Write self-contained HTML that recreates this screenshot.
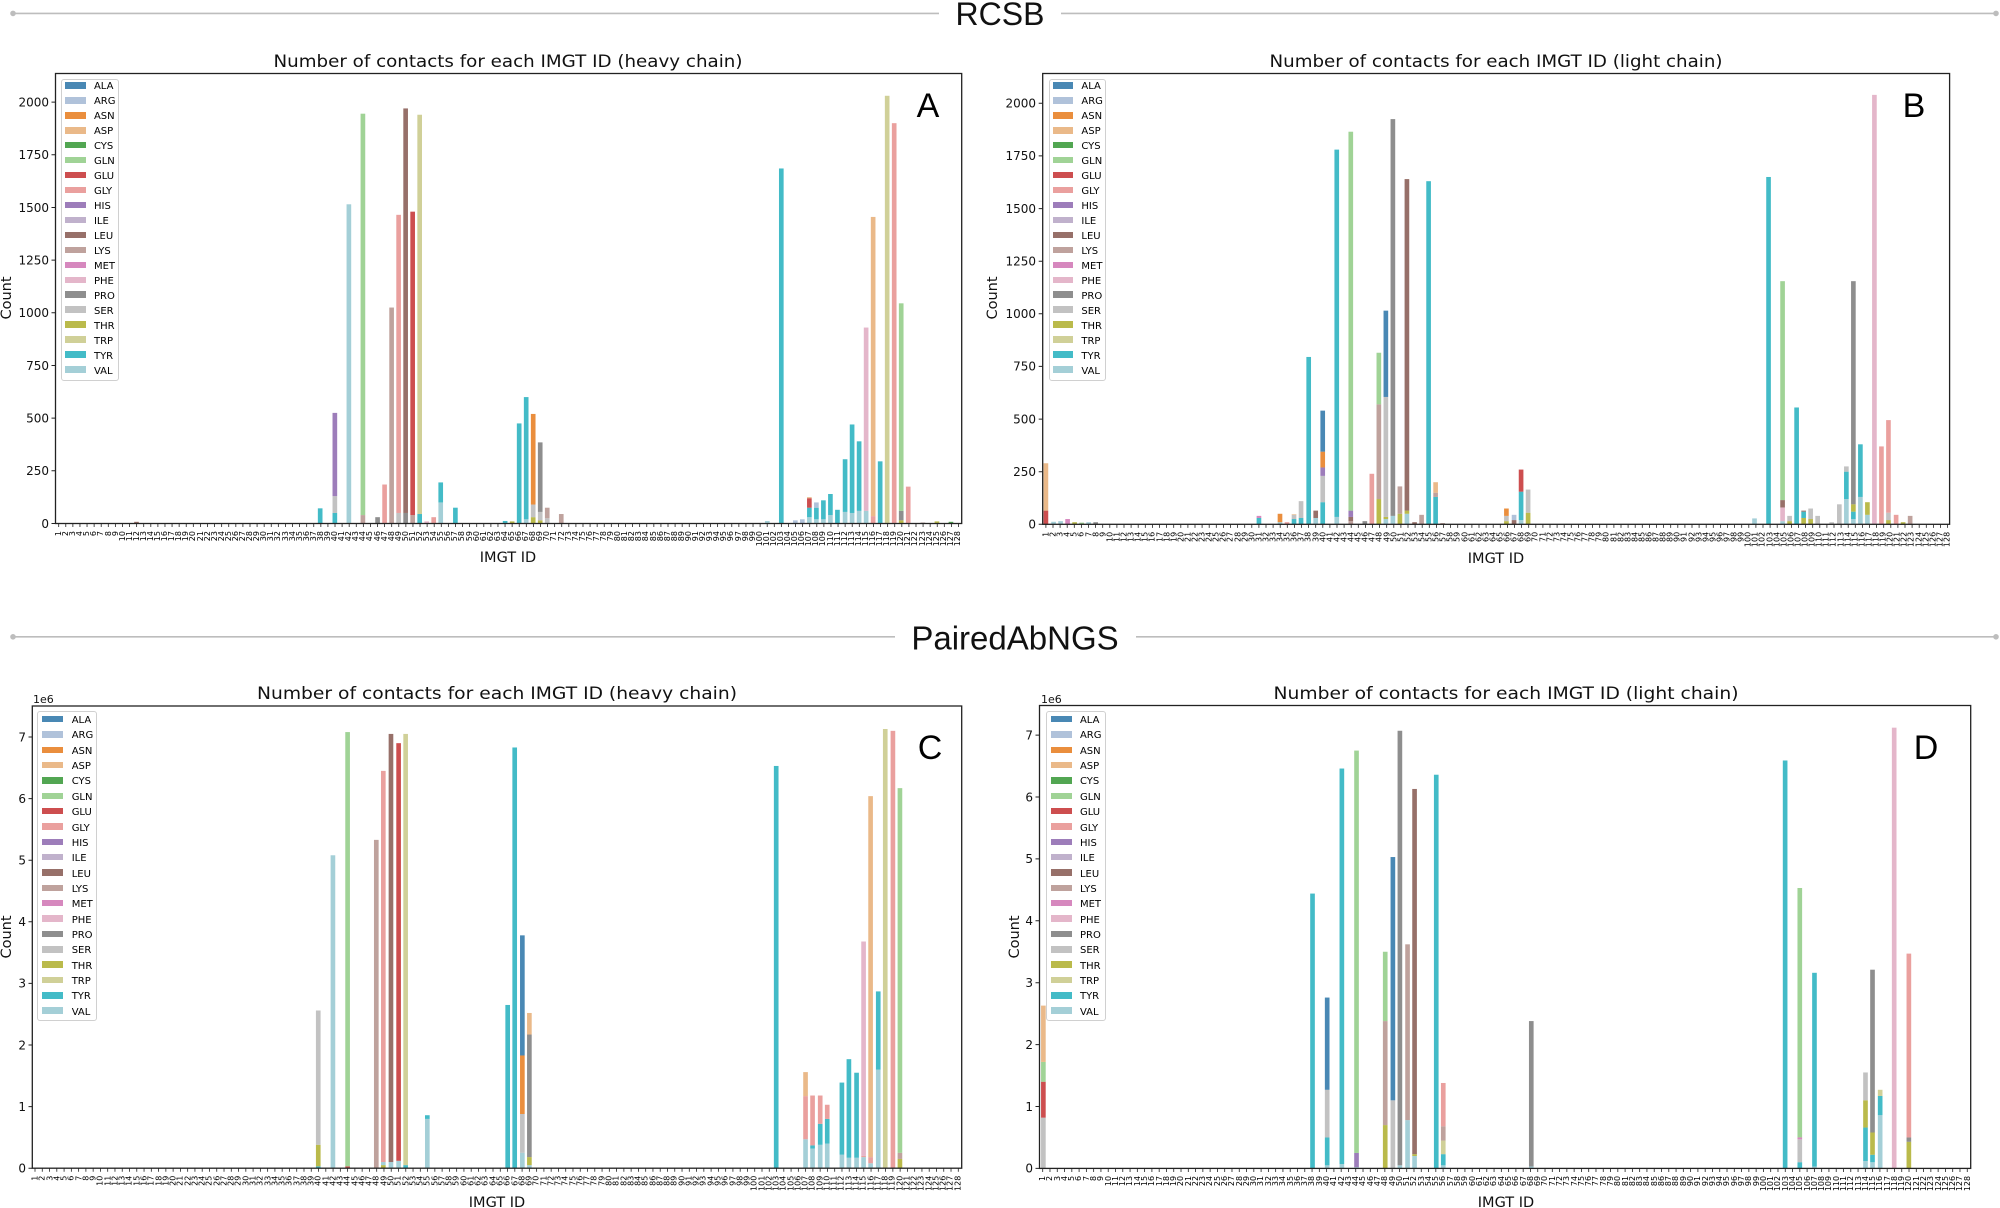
<!DOCTYPE html>
<html><head><meta charset="utf-8"><style>
html,body{margin:0;padding:0;background:#fff;}
body{width:2000px;height:1208px;position:relative;overflow:hidden;font-family:"DejaVu Sans","Liberation Sans",sans-serif;}
svg{position:absolute;left:0;top:0;}
.al{fill:#1f77b4;background:#1f77b4}.ar{fill:#aec7e8;background:#aec7e8}.an{fill:#ff7f0e;background:#ff7f0e}.as{fill:#ffbb78;background:#ffbb78}
.cy{fill:#2ca02c;background:#2ca02c}.gn{fill:#98df8a;background:#98df8a}.gu{fill:#d62728;background:#d62728}.gy{fill:#ff9896;background:#ff9896}
.hi{fill:#9467bd;background:#9467bd}.il{fill:#c5b0d5;background:#c5b0d5}.le{fill:#8c564b;background:#8c564b}.ly{fill:#c49c94;background:#c49c94}
.me{fill:#e377c2;background:#e377c2}.ph{fill:#f7b6d2;background:#f7b6d2}.pr{fill:#7f7f7f;background:#7f7f7f}.se{fill:#c7c7c7;background:#c7c7c7}
.th{fill:#bcbd22;background:#bcbd22}.tp{fill:#dbdb8d;background:#dbdb8d}.ty{fill:#17becf;background:#17becf}.va{fill:#9edae5;background:#9edae5}
.bars rect{opacity:.8;filter:brightness(.9)}
.lg i{opacity:.8;filter:brightness(.9)}
.xl{position:absolute;left:0;top:0;width:30px;font-size:8px;text-align:right;white-space:pre-line;transform-origin:0 0;color:#000}
.lg{position:absolute;background:#fff;border:1px solid #d0d0d0;border-radius:3px;font-size:10px;box-sizing:border-box}
.lg div{white-space:nowrap}
.lg i{display:inline-block;vertical-align:middle;height:6.5px;margin-top:-2px}
</style></head><body>
<svg width="2000" height="1208" viewBox="0 0 2000 1208">
<!-- section headers -->
<g stroke="#bdbdbd" stroke-width="1.6" fill="#bdbdbd">
<line x1="13" y1="13.4" x2="939" y2="13.4"/><circle cx="13" cy="13.4" r="2"/>
<line x1="1061" y1="13.4" x2="1996" y2="13.4"/><circle cx="1996" cy="13.4" r="2"/>
<line x1="13" y1="636.8" x2="895" y2="636.8"/><circle cx="13" cy="636.8" r="2"/>
<line x1="1136" y1="636.8" x2="1996" y2="636.8"/><circle cx="1996" cy="636.8" r="2"/>
</g>
<g font-family="Liberation Sans, sans-serif" fill="#111">
<text x="1000" y="25" font-size="32" text-anchor="middle">RCSB</text>
<text x="1015" y="649.5" font-size="33" text-anchor="middle">PairedAbNGS</text>
</g>

<!-- titles -->
<g font-size="17" text-anchor="middle" fill="#111">
<text x="508" y="67" textLength="469" lengthAdjust="spacingAndGlyphs">Number of contacts for each IMGT ID (heavy chain)</text>
<text x="1496" y="67" textLength="453" lengthAdjust="spacingAndGlyphs">Number of contacts for each IMGT ID (light chain)</text>
<text x="497" y="699" textLength="480" lengthAdjust="spacingAndGlyphs">Number of contacts for each IMGT ID (heavy chain)</text>
<text x="1506" y="699" textLength="465" lengthAdjust="spacingAndGlyphs">Number of contacts for each IMGT ID (light chain)</text>
</g>
<g font-size="14.5" text-anchor="middle" fill="#111">
<text x="508" y="562">IMGT ID</text>
<text x="1496" y="563">IMGT ID</text>
<text x="497" y="1207">IMGT ID</text>
<text x="1506" y="1207">IMGT ID</text>
<text transform="translate(11,298) rotate(-90)">Count</text>
<text transform="translate(997,298) rotate(-90)">Count</text>
<text transform="translate(11,937) rotate(-90)">Count</text>
<text transform="translate(1019,937) rotate(-90)">Count</text>
</g>
<g font-size="11" fill="#111">
<text x="33" y="703">1e6</text>
<text x="1041" y="703">1e6</text>
</g>
<!-- panel letters -->
<g font-family="Liberation Sans, sans-serif" font-size="34" fill="#000" text-anchor="middle">
<text x="928" y="117">A</text>
<text x="1914" y="117">B</text>
<text x="930" y="759">C</text>
<text x="1926" y="759">D</text>
</g>

<!-- y ticks labels -->
<g font-size="12" text-anchor="end" fill="#111">
<text x="49" y="527.8">0</text><text x="49" y="475.1">250</text><text x="49" y="422.4">500</text><text x="49" y="369.8">750</text><text x="49" y="317.1">1000</text><text x="49" y="264.4">1250</text><text x="49" y="211.8">1500</text><text x="49" y="159.1">1750</text><text x="49" y="106.4">2000</text>
<text x="1036" y="528.6">0</text><text x="1036" y="476">250</text><text x="1036" y="423.4">500</text><text x="1036" y="370.7">750</text><text x="1036" y="318.1">1000</text><text x="1036" y="265.5">1250</text><text x="1036" y="212.9">1500</text><text x="1036" y="160.2">1750</text><text x="1036" y="107.6">2000</text>
<text x="26" y="1172.5">0</text><text x="26" y="1110.9">1</text><text x="26" y="1049.3">2</text><text x="26" y="987.7">3</text><text x="26" y="926.1">4</text><text x="26" y="864.5">5</text><text x="26" y="802.9">6</text><text x="26" y="741.3">7</text>
<text x="1033" y="1172.7">0</text><text x="1033" y="1110.8">1</text><text x="1033" y="1048.9">2</text><text x="1033" y="987">3</text><text x="1033" y="925.1">4</text><text x="1033" y="863.2">5</text><text x="1033" y="801.3">6</text><text x="1033" y="739.4">7</text>
</g>
<g stroke="#222" stroke-width="1">
<path d="M51.5 523.5h4M51.5 470.8h4M51.5 418.1h4M51.5 365.5h4M51.5 312.8h4M51.5 260.1h4M51.5 207.5h4M51.5 154.8h4M51.5 102.1h4"/>
<path d="M1038.7 524.3h4M1038.7 471.7h4M1038.7 419.1h4M1038.7 366.4h4M1038.7 313.8h4M1038.7 261.2h4M1038.7 208.6h4M1038.7 155.9h4M1038.7 103.3h4"/>
<path d="M28.5 1168.2h4M28.5 1106.6h4M28.5 1045h4M28.5 983.4h4M28.5 921.8h4M28.5 860.2h4M28.5 798.6h4M28.5 737h4"/>
<path d="M1035.5 1168.4h4M1035.5 1106.5h4M1035.5 1044.6h4M1035.5 982.7h4M1035.5 920.8h4M1035.5 858.9h4M1035.5 797h4M1035.5 735.1h4"/>
</g>
<!-- x ticks -->
<g stroke="#222" stroke-width="3.5">
<line x1="58.3" y1="525.3" x2="959" y2="525.3" stroke-dasharray="0.8 6.285"/>
<line x1="1045.5" y1="526.1" x2="1948.2" y2="526.1" stroke-dasharray="0.8 6.3"/>
<line x1="34.6" y1="1170" x2="959" y2="1170" stroke-dasharray="0.8 6.47"/>
<line x1="1042.3" y1="1170.2" x2="1968.2" y2="1170.2" stroke-dasharray="0.8 6.48"/>
</g>

<!-- bars A -->
<g class="bars" transform="translate(-2.33,523.5) scale(0.6378,-0.2107)">
<rect class="le" x="214" y="0" width="7.3" height="8"/>
<rect class="ty" x="502" y="0" width="7.3" height="72"/>
<rect class="ty" x="525" y="0" width="7.3" height="50"/><rect class="se" x="525" y="50" width="7.3" height="80"/><rect class="hi" x="525" y="130" width="7.3" height="395"/>
<rect class="va" x="547" y="0" width="7.3" height="1515"/>
<rect class="ly" x="569" y="0" width="7.3" height="40"/><rect class="gn" x="569" y="40" width="7.3" height="1905"/>
<rect class="pr" x="592" y="0" width="7.3" height="30"/>
<rect class="gy" x="603" y="0" width="7.3" height="185"/>
<rect class="ly" x="614" y="0" width="7.3" height="1025"/>
<rect class="se" x="625" y="0" width="7.3" height="50"/><rect class="gy" x="625" y="50" width="7.3" height="1415"/>
<rect class="pr" x="636" y="0" width="7.3" height="50"/><rect class="le" x="636" y="50" width="7.3" height="1920"/>
<rect class="ly" x="647" y="0" width="7.3" height="40"/><rect class="gu" x="647" y="40" width="7.3" height="1440"/>
<rect class="ty" x="658" y="0" width="7.3" height="45"/><rect class="tp" x="658" y="45" width="7.3" height="1895"/>
<rect class="ph" x="669" y="0" width="7.3" height="10"/>
<rect class="gy" x="680" y="0" width="7.3" height="30"/>
<rect class="va" x="691" y="0" width="7.3" height="100"/><rect class="ty" x="691" y="100" width="7.3" height="95"/>
<rect class="ty" x="714" y="0" width="7.3" height="75"/>
<rect class="ty" x="792" y="0" width="7.3" height="12"/>
<rect class="th" x="803" y="0" width="7.3" height="10"/>
<rect class="ty" x="814" y="0" width="7.3" height="475"/>
<rect class="va" x="825" y="0" width="7.3" height="20"/><rect class="ty" x="825" y="20" width="7.3" height="580"/>
<rect class="th" x="836" y="0" width="7.3" height="30"/><rect class="se" x="836" y="30" width="7.3" height="60"/><rect class="an" x="836" y="90" width="7.3" height="430"/>
<rect class="th" x="847" y="0" width="7.3" height="15"/><rect class="se" x="847" y="15" width="7.3" height="40"/><rect class="pr" x="847" y="55" width="7.3" height="330"/>
<rect class="se" x="858" y="0" width="7.3" height="25"/><rect class="ly" x="858" y="25" width="7.3" height="50"/>
<rect class="ly" x="880" y="0" width="7.3" height="45"/>
<rect class="va" x="1203" y="0" width="7.3" height="12"/>
<rect class="ty" x="1225" y="0" width="7.3" height="1685"/>
<rect class="ar" x="1247" y="0" width="7.3" height="15"/>
<rect class="ar" x="1258" y="0" width="7.3" height="20"/>
<rect class="va" x="1269" y="0" width="7.3" height="30"/><rect class="ty" x="1269" y="30" width="7.3" height="45"/><rect class="gu" x="1269" y="75" width="7.3" height="45"/><rect class="as" x="1269" y="120" width="7.3" height="5"/>
<rect class="va" x="1280" y="0" width="7.3" height="20"/><rect class="ty" x="1280" y="20" width="7.3" height="55"/><rect class="ar" x="1280" y="75" width="7.3" height="25"/>
<rect class="va" x="1291" y="0" width="7.3" height="20"/><rect class="ty" x="1291" y="20" width="7.3" height="90"/>
<rect class="va" x="1302" y="0" width="7.3" height="40"/><rect class="ty" x="1302" y="40" width="7.3" height="100"/>
<rect class="ty" x="1313" y="0" width="7.3" height="65"/>
<rect class="va" x="1325" y="0" width="7.3" height="55"/><rect class="ty" x="1325" y="55" width="7.3" height="250"/>
<rect class="va" x="1336" y="0" width="7.3" height="50"/><rect class="ty" x="1336" y="50" width="7.3" height="420"/>
<rect class="va" x="1347" y="0" width="7.3" height="60"/><rect class="ty" x="1347" y="60" width="7.3" height="330"/>
<rect class="va" x="1358" y="0" width="7.3" height="60"/><rect class="ph" x="1358" y="60" width="7.3" height="870"/>
<rect class="gy" x="1369" y="0" width="7.3" height="35"/><rect class="as" x="1369" y="35" width="7.3" height="1420"/>
<rect class="ty" x="1380" y="0" width="7.3" height="295"/>
<rect class="tp" x="1391" y="0" width="7.3" height="2030"/>
<rect class="gy" x="1402" y="0" width="7.3" height="1900"/>
<rect class="th" x="1413" y="0" width="7.3" height="15"/><rect class="pr" x="1413" y="15" width="7.3" height="45"/><rect class="gn" x="1413" y="60" width="7.3" height="985"/>
<rect class="gy" x="1424" y="0" width="7.3" height="175"/>
<rect class="le" x="1447" y="0" width="7.3" height="4"/>
<rect class="th" x="1469" y="0" width="7.3" height="10"/>
<rect class="cy" x="1491" y="0" width="7.3" height="8"/>
</g>

<!-- bars B -->
<g class="bars" transform="translate(997.67,524.3) scale(0.6378,-0.2105)">
<rect class="gu" x="72" y="0" width="7.3" height="65"/><rect class="as" x="72" y="65" width="7.3" height="225"/>
<rect class="va" x="84" y="0" width="7.3" height="12"/>
<rect class="va" x="95" y="0" width="7.3" height="15"/>
<rect class="me" x="106" y="0" width="7.3" height="25"/>
<rect class="th" x="117" y="0" width="7.3" height="10"/>
<rect class="gn" x="128" y="0" width="7.3" height="8"/>
<rect class="va" x="139" y="0" width="7.3" height="10"/>
<rect class="pr" x="150" y="0" width="7.3" height="10"/>
<rect class="ty" x="406" y="0" width="7.3" height="30"/><rect class="me" x="406" y="30" width="7.3" height="10"/>
<rect class="va" x="439" y="0" width="7.3" height="10"/><rect class="an" x="439" y="10" width="7.3" height="40"/>
<rect class="gy" x="450" y="0" width="7.3" height="10"/>
<rect class="ty" x="461" y="0" width="7.3" height="25"/><rect class="se" x="461" y="25" width="7.3" height="20"/><rect class="as" x="461" y="45" width="7.3" height="3"/>
<rect class="ty" x="472" y="0" width="7.3" height="30"/><rect class="se" x="472" y="30" width="7.3" height="80"/>
<rect class="ty" x="484" y="0" width="7.3" height="795"/>
<rect class="va" x="495" y="0" width="7.3" height="30"/><rect class="le" x="495" y="30" width="7.3" height="35"/>
<rect class="ty" x="506" y="0" width="7.3" height="105"/><rect class="se" x="506" y="105" width="7.3" height="125"/><rect class="hi" x="506" y="230" width="7.3" height="40"/><rect class="an" x="506" y="270" width="7.3" height="75"/><rect class="al" x="506" y="345" width="7.3" height="195"/>
<rect class="va" x="528" y="0" width="7.3" height="35"/><rect class="ty" x="528" y="35" width="7.3" height="1745"/>
<rect class="ly" x="550" y="0" width="7.3" height="15"/><rect class="le" x="550" y="15" width="7.3" height="20"/><rect class="hi" x="550" y="35" width="7.3" height="30"/><rect class="gn" x="550" y="65" width="7.3" height="1800"/>
<rect class="pr" x="572" y="0" width="7.3" height="15"/>
<rect class="gy" x="583" y="0" width="7.3" height="240"/>
<rect class="th" x="594" y="0" width="7.3" height="120"/><rect class="ly" x="594" y="120" width="7.3" height="450"/><rect class="gn" x="594" y="570" width="7.3" height="245"/>
<rect class="va" x="605" y="0" width="7.3" height="25"/><rect class="th" x="605" y="25" width="7.3" height="10"/><rect class="se" x="605" y="35" width="7.3" height="570"/><rect class="al" x="605" y="605" width="7.3" height="410"/>
<rect class="va" x="616" y="0" width="7.3" height="40"/><rect class="pr" x="616" y="40" width="7.3" height="1885"/>
<rect class="th" x="627" y="0" width="7.3" height="50"/><rect class="ly" x="627" y="50" width="7.3" height="130"/>
<rect class="va" x="638" y="0" width="7.3" height="50"/><rect class="th" x="638" y="50" width="7.3" height="15"/><rect class="le" x="638" y="65" width="7.3" height="1575"/>
<rect class="le" x="650" y="0" width="7.3" height="10"/>
<rect class="ly" x="661" y="0" width="7.3" height="45"/>
<rect class="ty" x="672" y="0" width="7.3" height="1630"/>
<rect class="ty" x="683" y="0" width="7.3" height="130"/><rect class="ly" x="683" y="130" width="7.3" height="20"/><rect class="as" x="683" y="150" width="7.3" height="50"/>
<rect class="le" x="694" y="0" width="7.3" height="5"/>
<rect class="th" x="794" y="0" width="7.3" height="15"/><rect class="se" x="794" y="15" width="7.3" height="25"/><rect class="an" x="794" y="40" width="7.3" height="35"/>
<rect class="le" x="806" y="0" width="7.3" height="20"/><rect class="ar" x="806" y="20" width="7.3" height="25"/>
<rect class="va" x="817" y="0" width="7.3" height="20"/><rect class="ty" x="817" y="20" width="7.3" height="135"/><rect class="gu" x="817" y="155" width="7.3" height="105"/>
<rect class="th" x="828" y="0" width="7.3" height="55"/><rect class="se" x="828" y="55" width="7.3" height="110"/>
<rect class="va" x="1183" y="0" width="7.3" height="28"/>
<rect class="ty" x="1205" y="0" width="7.3" height="1650"/>
<rect class="va" x="1227" y="0" width="7.3" height="15"/><rect class="ph" x="1227" y="15" width="7.3" height="65"/><rect class="le" x="1227" y="80" width="7.3" height="35"/><rect class="gn" x="1227" y="115" width="7.3" height="1040"/>
<rect class="th" x="1238" y="0" width="7.3" height="15"/><rect class="se" x="1238" y="15" width="7.3" height="25"/>
<rect class="ty" x="1249" y="0" width="7.3" height="555"/>
<rect class="th" x="1260" y="0" width="7.3" height="30"/><rect class="ty" x="1260" y="30" width="7.3" height="30"/><rect class="le" x="1260" y="60" width="7.3" height="5"/>
<rect class="th" x="1271" y="0" width="7.3" height="25"/><rect class="se" x="1271" y="25" width="7.3" height="50"/>
<rect class="se" x="1282" y="0" width="7.3" height="40"/>
<rect class="se" x="1304" y="0" width="7.3" height="10"/>
<rect class="se" x="1316" y="0" width="7.3" height="95"/>
<rect class="va" x="1327" y="0" width="7.3" height="120"/><rect class="ty" x="1327" y="120" width="7.3" height="130"/><rect class="se" x="1327" y="250" width="7.3" height="25"/>
<rect class="va" x="1338" y="0" width="7.3" height="25"/><rect class="ty" x="1338" y="25" width="7.3" height="35"/><rect class="th" x="1338" y="60" width="7.3" height="35"/><rect class="pr" x="1338" y="95" width="7.3" height="1060"/>
<rect class="va" x="1349" y="0" width="7.3" height="130"/><rect class="ty" x="1349" y="130" width="7.3" height="250"/>
<rect class="va" x="1360" y="0" width="7.3" height="45"/><rect class="th" x="1360" y="45" width="7.3" height="60"/>
<rect class="ph" x="1371" y="0" width="7.3" height="2040"/>
<rect class="gy" x="1382" y="0" width="7.3" height="370"/>
<rect class="th" x="1393" y="0" width="7.3" height="20"/><rect class="se" x="1393" y="20" width="7.3" height="35"/><rect class="gy" x="1393" y="55" width="7.3" height="440"/>
<rect class="gy" x="1405" y="0" width="7.3" height="45"/>
<rect class="th" x="1416" y="0" width="7.3" height="10"/>
<rect class="ly" x="1427" y="0" width="7.3" height="40"/>
</g>

<!-- bars C (units 0.01e6) -->
<g class="bars" transform="translate(-2.33,1168.2) scale(0.6378,-0.616)">
<rect class="ty" x="499" y="0" width="7.3" height="3"/><rect class="th" x="499" y="3" width="7.3" height="35"/><rect class="se" x="499" y="38" width="7.3" height="218"/>
<rect class="va" x="522" y="0" width="7.3" height="508"/>
<rect class="gu" x="545" y="0" width="7.3" height="3"/><rect class="gn" x="545" y="3" width="7.3" height="705"/>
<rect class="ly" x="590" y="0" width="7.3" height="533"/>
<rect class="th" x="601" y="0" width="7.3" height="5"/><rect class="va" x="601" y="5" width="7.3" height="5"/><rect class="gy" x="601" y="10" width="7.3" height="635"/>
<rect class="va" x="613" y="0" width="7.3" height="10"/><rect class="le" x="613" y="10" width="7.3" height="695"/>
<rect class="va" x="625" y="0" width="7.3" height="12"/><rect class="gu" x="625" y="12" width="7.3" height="678"/>
<rect class="ty" x="636" y="0" width="7.3" height="5"/><rect class="tp" x="636" y="5" width="7.3" height="700"/>
<rect class="va" x="670" y="0" width="7.3" height="80"/><rect class="ty" x="670" y="80" width="7.3" height="6"/>
<rect class="ty" x="796" y="0" width="7.3" height="265"/>
<rect class="ty" x="807" y="0" width="7.3" height="683"/>
<rect class="va" x="819" y="0" width="7.3" height="25"/><rect class="se" x="819" y="25" width="7.3" height="63"/><rect class="an" x="819" y="88" width="7.3" height="95"/><rect class="al" x="819" y="183" width="7.3" height="195"/>
<rect class="va" x="830" y="0" width="7.3" height="5"/><rect class="th" x="830" y="5" width="7.3" height="13"/><rect class="pr" x="830" y="18" width="7.3" height="199"/><rect class="as" x="830" y="217" width="7.3" height="35"/>
<rect class="ty" x="1217" y="0" width="7.3" height="653"/>
<rect class="va" x="1263" y="0" width="7.3" height="47"/><rect class="gy" x="1263" y="47" width="7.3" height="70"/><rect class="as" x="1263" y="117" width="7.3" height="39"/>
<rect class="va" x="1274" y="0" width="7.3" height="32"/><rect class="ty" x="1274" y="32" width="7.3" height="5"/><rect class="gy" x="1274" y="37" width="7.3" height="81"/>
<rect class="va" x="1286" y="0" width="7.3" height="38"/><rect class="ty" x="1286" y="38" width="7.3" height="34"/><rect class="gy" x="1286" y="72" width="7.3" height="46"/>
<rect class="va" x="1297" y="0" width="7.3" height="40"/><rect class="ty" x="1297" y="40" width="7.3" height="40"/><rect class="gy" x="1297" y="80" width="7.3" height="23"/>
<rect class="va" x="1320" y="0" width="7.3" height="22"/><rect class="ty" x="1320" y="22" width="7.3" height="117"/>
<rect class="va" x="1331" y="0" width="7.3" height="17"/><rect class="ty" x="1331" y="17" width="7.3" height="160"/>
<rect class="va" x="1343" y="0" width="7.3" height="17"/><rect class="ty" x="1343" y="17" width="7.3" height="138"/>
<rect class="va" x="1354" y="0" width="7.3" height="18"/><rect class="gy" x="1354" y="18" width="7.3" height="2"/><rect class="ph" x="1354" y="20" width="7.3" height="348"/>
<rect class="va" x="1365" y="0" width="7.3" height="8"/><rect class="gy" x="1365" y="8" width="7.3" height="10"/><rect class="as" x="1365" y="18" width="7.3" height="586"/>
<rect class="va" x="1377" y="0" width="7.3" height="160"/><rect class="ty" x="1377" y="160" width="7.3" height="127"/>
<rect class="tp" x="1388" y="0" width="7.3" height="713"/>
<rect class="gy" x="1400" y="0" width="7.3" height="710"/>
<rect class="th" x="1411" y="0" width="7.3" height="15"/><rect class="ly" x="1411" y="15" width="7.3" height="10"/><rect class="gn" x="1411" y="25" width="7.3" height="592"/>
</g>

<!-- bars D -->
<g class="bars" transform="translate(997.67,1168.4) scale(0.6378,-0.619)">
<rect class="se" x="68" y="0" width="7.3" height="82"/><rect class="gu" x="68" y="82" width="7.3" height="58"/><rect class="gn" x="68" y="140" width="7.3" height="32"/><rect class="as" x="68" y="172" width="7.3" height="91"/>
<rect class="ty" x="490" y="0" width="7.3" height="444"/>
<rect class="va" x="513" y="0" width="7.3" height="5"/><rect class="ty" x="513" y="5" width="7.3" height="45"/><rect class="se" x="513" y="50" width="7.3" height="77"/><rect class="al" x="513" y="127" width="7.3" height="149"/>
<rect class="va" x="536" y="0" width="7.3" height="7"/><rect class="ty" x="536" y="7" width="7.3" height="639"/>
<rect class="va" x="559" y="0" width="7.3" height="2"/><rect class="hi" x="559" y="2" width="7.3" height="23"/><rect class="gn" x="559" y="25" width="7.3" height="650"/>
<rect class="th" x="604" y="0" width="7.3" height="70"/><rect class="ly" x="604" y="70" width="7.3" height="168"/><rect class="gn" x="604" y="238" width="7.3" height="112"/>
<rect class="se" x="616" y="0" width="7.3" height="110"/><rect class="al" x="616" y="110" width="7.3" height="393"/>
<rect class="va" x="627" y="0" width="7.3" height="5"/><rect class="pr" x="627" y="5" width="7.3" height="702"/>
<rect class="va" x="639" y="0" width="7.3" height="78"/><rect class="ly" x="639" y="78" width="7.3" height="284"/>
<rect class="va" x="650" y="0" width="7.3" height="20"/><rect class="th" x="650" y="20" width="7.3" height="3"/><rect class="le" x="650" y="23" width="7.3" height="590"/>
<rect class="ty" x="684" y="0" width="7.3" height="636"/>
<rect class="va" x="695" y="0" width="7.3" height="5"/><rect class="ty" x="695" y="5" width="7.3" height="18"/><rect class="tp" x="695" y="23" width="7.3" height="22"/><rect class="ly" x="695" y="45" width="7.3" height="23"/><rect class="gy" x="695" y="68" width="7.3" height="70"/>
<rect class="va" x="833" y="0" width="7.3" height="3"/><rect class="pr" x="833" y="3" width="7.3" height="235"/>
<rect class="ty" x="1231" y="0" width="7.3" height="659"/>
<rect class="ty" x="1254" y="0" width="7.3" height="10"/><rect class="se" x="1254" y="10" width="7.3" height="37"/><rect class="me" x="1254" y="47" width="7.3" height="3"/><rect class="gn" x="1254" y="50" width="7.3" height="403"/>
<rect class="va" x="1277" y="0" width="7.3" height="3"/><rect class="ty" x="1277" y="3" width="7.3" height="313"/>
<rect class="va" x="1357" y="0" width="7.3" height="12"/><rect class="ty" x="1357" y="12" width="7.3" height="54"/><rect class="th" x="1357" y="66" width="7.3" height="44"/><rect class="se" x="1357" y="110" width="7.3" height="45"/>
<rect class="va" x="1368" y="0" width="7.3" height="10"/><rect class="ty" x="1368" y="10" width="7.3" height="12"/><rect class="th" x="1368" y="22" width="7.3" height="36"/><rect class="pr" x="1368" y="58" width="7.3" height="263"/>
<rect class="va" x="1380" y="0" width="7.3" height="86"/><rect class="ty" x="1380" y="86" width="7.3" height="31"/><rect class="tp" x="1380" y="117" width="7.3" height="10"/>
<rect class="ph" x="1402" y="0" width="7.3" height="712"/>
<rect class="th" x="1425" y="0" width="7.3" height="43"/><rect class="pr" x="1425" y="43" width="7.3" height="7"/><rect class="gy" x="1425" y="50" width="7.3" height="297"/>
</g>

<!-- axes frames -->
<g fill="none" stroke="#222" stroke-width="1.3">
<rect x="55.5" y="73.5" width="906.2" height="450"/>
<rect x="1042.7" y="73.5" width="906.9" height="450.8"/>
<rect x="32.3" y="706" width="929.4" height="462.2"/>
<rect x="1039.5" y="705.5" width="931.2" height="462.9"/>
</g>
</svg>

<!-- legends -->
<div class="lg" style="left:60.6px;top:78.5px;width:58px;height:302.3px;padding:0.9px 0 0 3.8px">
<div style="line-height:14.96px"><i class="al" style="width:20.4px;margin-right:8.2px"></i>ALA</div>
<div style="line-height:14.96px"><i class="ar" style="width:20.4px;margin-right:8.2px"></i>ARG</div>
<div style="line-height:14.96px"><i class="an" style="width:20.4px;margin-right:8.2px"></i>ASN</div>
<div style="line-height:14.96px"><i class="as" style="width:20.4px;margin-right:8.2px"></i>ASP</div>
<div style="line-height:14.96px"><i class="cy" style="width:20.4px;margin-right:8.2px"></i>CYS</div>
<div style="line-height:14.96px"><i class="gn" style="width:20.4px;margin-right:8.2px"></i>GLN</div>
<div style="line-height:14.96px"><i class="gu" style="width:20.4px;margin-right:8.2px"></i>GLU</div>
<div style="line-height:14.96px"><i class="gy" style="width:20.4px;margin-right:8.2px"></i>GLY</div>
<div style="line-height:14.96px"><i class="hi" style="width:20.4px;margin-right:8.2px"></i>HIS</div>
<div style="line-height:14.96px"><i class="il" style="width:20.4px;margin-right:8.2px"></i>ILE</div>
<div style="line-height:14.96px"><i class="le" style="width:20.4px;margin-right:8.2px"></i>LEU</div>
<div style="line-height:14.96px"><i class="ly" style="width:20.4px;margin-right:8.2px"></i>LYS</div>
<div style="line-height:14.96px"><i class="me" style="width:20.4px;margin-right:8.2px"></i>MET</div>
<div style="line-height:14.96px"><i class="ph" style="width:20.4px;margin-right:8.2px"></i>PHE</div>
<div style="line-height:14.96px"><i class="pr" style="width:20.4px;margin-right:8.2px"></i>PRO</div>
<div style="line-height:14.96px"><i class="se" style="width:20.4px;margin-right:8.2px"></i>SER</div>
<div style="line-height:14.96px"><i class="th" style="width:20.4px;margin-right:8.2px"></i>THR</div>
<div style="line-height:14.96px"><i class="tp" style="width:20.4px;margin-right:8.2px"></i>TRP</div>
<div style="line-height:14.96px"><i class="ty" style="width:20.4px;margin-right:8.2px"></i>TYR</div>
<div style="line-height:14.96px"><i class="va" style="width:20.4px;margin-right:8.2px"></i>VAL</div>
</div>
<div class="lg" style="left:1048.5px;top:78.5px;width:57.4px;height:302.3px;padding:0.9px 0 0 3.8px">
<div style="line-height:14.96px"><i class="al" style="width:19.7px;margin-right:8.4px"></i>ALA</div>
<div style="line-height:14.96px"><i class="ar" style="width:19.7px;margin-right:8.4px"></i>ARG</div>
<div style="line-height:14.96px"><i class="an" style="width:19.7px;margin-right:8.4px"></i>ASN</div>
<div style="line-height:14.96px"><i class="as" style="width:19.7px;margin-right:8.4px"></i>ASP</div>
<div style="line-height:14.96px"><i class="cy" style="width:19.7px;margin-right:8.4px"></i>CYS</div>
<div style="line-height:14.96px"><i class="gn" style="width:19.7px;margin-right:8.4px"></i>GLN</div>
<div style="line-height:14.96px"><i class="gu" style="width:19.7px;margin-right:8.4px"></i>GLU</div>
<div style="line-height:14.96px"><i class="gy" style="width:19.7px;margin-right:8.4px"></i>GLY</div>
<div style="line-height:14.96px"><i class="hi" style="width:19.7px;margin-right:8.4px"></i>HIS</div>
<div style="line-height:14.96px"><i class="il" style="width:19.7px;margin-right:8.4px"></i>ILE</div>
<div style="line-height:14.96px"><i class="le" style="width:19.7px;margin-right:8.4px"></i>LEU</div>
<div style="line-height:14.96px"><i class="ly" style="width:19.7px;margin-right:8.4px"></i>LYS</div>
<div style="line-height:14.96px"><i class="me" style="width:19.7px;margin-right:8.4px"></i>MET</div>
<div style="line-height:14.96px"><i class="ph" style="width:19.7px;margin-right:8.4px"></i>PHE</div>
<div style="line-height:14.96px"><i class="pr" style="width:19.7px;margin-right:8.4px"></i>PRO</div>
<div style="line-height:14.96px"><i class="se" style="width:19.7px;margin-right:8.4px"></i>SER</div>
<div style="line-height:14.96px"><i class="th" style="width:19.7px;margin-right:8.4px"></i>THR</div>
<div style="line-height:14.96px"><i class="tp" style="width:19.7px;margin-right:8.4px"></i>TRP</div>
<div style="line-height:14.96px"><i class="ty" style="width:19.7px;margin-right:8.4px"></i>TYR</div>
<div style="line-height:14.96px"><i class="va" style="width:19.7px;margin-right:8.4px"></i>VAL</div>
</div>
<div class="lg" style="left:37px;top:711px;width:59.7px;height:309.7px;padding:1.1px 0 0 4px">
<div style="line-height:15.35px"><i class="al" style="width:21.3px;margin-right:8.4px"></i>ALA</div>
<div style="line-height:15.35px"><i class="ar" style="width:21.3px;margin-right:8.4px"></i>ARG</div>
<div style="line-height:15.35px"><i class="an" style="width:21.3px;margin-right:8.4px"></i>ASN</div>
<div style="line-height:15.35px"><i class="as" style="width:21.3px;margin-right:8.4px"></i>ASP</div>
<div style="line-height:15.35px"><i class="cy" style="width:21.3px;margin-right:8.4px"></i>CYS</div>
<div style="line-height:15.35px"><i class="gn" style="width:21.3px;margin-right:8.4px"></i>GLN</div>
<div style="line-height:15.35px"><i class="gu" style="width:21.3px;margin-right:8.4px"></i>GLU</div>
<div style="line-height:15.35px"><i class="gy" style="width:21.3px;margin-right:8.4px"></i>GLY</div>
<div style="line-height:15.35px"><i class="hi" style="width:21.3px;margin-right:8.4px"></i>HIS</div>
<div style="line-height:15.35px"><i class="il" style="width:21.3px;margin-right:8.4px"></i>ILE</div>
<div style="line-height:15.35px"><i class="le" style="width:21.3px;margin-right:8.4px"></i>LEU</div>
<div style="line-height:15.35px"><i class="ly" style="width:21.3px;margin-right:8.4px"></i>LYS</div>
<div style="line-height:15.35px"><i class="me" style="width:21.3px;margin-right:8.4px"></i>MET</div>
<div style="line-height:15.35px"><i class="ph" style="width:21.3px;margin-right:8.4px"></i>PHE</div>
<div style="line-height:15.35px"><i class="pr" style="width:21.3px;margin-right:8.4px"></i>PRO</div>
<div style="line-height:15.35px"><i class="se" style="width:21.3px;margin-right:8.4px"></i>SER</div>
<div style="line-height:15.35px"><i class="th" style="width:21.3px;margin-right:8.4px"></i>THR</div>
<div style="line-height:15.35px"><i class="tp" style="width:21.3px;margin-right:8.4px"></i>TRP</div>
<div style="line-height:15.35px"><i class="ty" style="width:21.3px;margin-right:8.4px"></i>TYR</div>
<div style="line-height:15.35px"><i class="va" style="width:21.3px;margin-right:8.4px"></i>VAL</div>
</div>
<div class="lg" style="left:1046px;top:711px;width:60px;height:309.7px;padding:1.1px 0 0 3.7px">
<div style="line-height:15.35px"><i class="al" style="width:21.1px;margin-right:8.2px"></i>ALA</div>
<div style="line-height:15.35px"><i class="ar" style="width:21.1px;margin-right:8.2px"></i>ARG</div>
<div style="line-height:15.35px"><i class="an" style="width:21.1px;margin-right:8.2px"></i>ASN</div>
<div style="line-height:15.35px"><i class="as" style="width:21.1px;margin-right:8.2px"></i>ASP</div>
<div style="line-height:15.35px"><i class="cy" style="width:21.1px;margin-right:8.2px"></i>CYS</div>
<div style="line-height:15.35px"><i class="gn" style="width:21.1px;margin-right:8.2px"></i>GLN</div>
<div style="line-height:15.35px"><i class="gu" style="width:21.1px;margin-right:8.2px"></i>GLU</div>
<div style="line-height:15.35px"><i class="gy" style="width:21.1px;margin-right:8.2px"></i>GLY</div>
<div style="line-height:15.35px"><i class="hi" style="width:21.1px;margin-right:8.2px"></i>HIS</div>
<div style="line-height:15.35px"><i class="il" style="width:21.1px;margin-right:8.2px"></i>ILE</div>
<div style="line-height:15.35px"><i class="le" style="width:21.1px;margin-right:8.2px"></i>LEU</div>
<div style="line-height:15.35px"><i class="ly" style="width:21.1px;margin-right:8.2px"></i>LYS</div>
<div style="line-height:15.35px"><i class="me" style="width:21.1px;margin-right:8.2px"></i>MET</div>
<div style="line-height:15.35px"><i class="ph" style="width:21.1px;margin-right:8.2px"></i>PHE</div>
<div style="line-height:15.35px"><i class="pr" style="width:21.1px;margin-right:8.2px"></i>PRO</div>
<div style="line-height:15.35px"><i class="se" style="width:21.1px;margin-right:8.2px"></i>SER</div>
<div style="line-height:15.35px"><i class="th" style="width:21.1px;margin-right:8.2px"></i>THR</div>
<div style="line-height:15.35px"><i class="tp" style="width:21.1px;margin-right:8.2px"></i>TRP</div>
<div style="line-height:15.35px"><i class="ty" style="width:21.1px;margin-right:8.2px"></i>TYR</div>
<div style="line-height:15.35px"><i class="va" style="width:21.1px;margin-right:8.2px"></i>VAL</div>
</div>

<!-- x tick labels (rotated columns) -->
<div class="xl" style="line-height:7.085px;transform:translate(55.16px,561px) rotate(-90deg)">1
2
3
4
5
6
7
8
9
10
11
12
13
14
15
16
17
18
19
20
21
22
23
24
25
26
27
28
29
30
31
32
33
34
35
36
37
38
39
40
41
42
43
44
45
46
47
48
49
50
51
52
53
54
55
56
57
58
59
60
61
62
63
64
65
66
67
68
69
70
71
72
73
74
75
76
77
78
79
80
81
82
83
84
85
86
87
88
89
90
91
92
93
94
95
96
97
98
99
100
101
102
103
104
105
106
107
108
109
110
111
112
113
114
115
116
117
118
119
120
121
122
123
124
125
126
127
128</div>
<div class="xl" style="line-height:7.1px;transform:translate(1042.35px,561.8px) rotate(-90deg)">1
2
3
4
5
6
7
8
9
10
11
12
13
14
15
16
17
18
19
20
21
22
23
24
25
26
27
28
29
30
31
32
33
34
35
36
37
38
39
40
41
42
43
44
45
46
47
48
49
50
51
52
53
54
55
56
57
58
59
60
61
62
63
64
65
66
67
68
69
70
71
72
73
74
75
76
77
78
79
80
81
82
83
84
85
86
87
88
89
90
91
92
93
94
95
96
97
98
99
100
101
102
103
104
105
106
107
108
109
110
111
112
113
114
115
116
117
118
119
120
121
122
123
124
125
126
127
128</div>
<div class="xl" style="line-height:7.27px;transform:translate(31.37px,1205.7px) rotate(-90deg)">1
2
3
4
5
6
7
8
9
10
11
12
13
14
15
16
17
18
19
20
21
22
23
24
25
26
27
28
29
30
31
32
33
34
35
36
37
38
39
40
41
42
43
44
45
46
47
48
49
50
51
52
53
54
55
56
57
58
59
60
61
62
63
64
65
66
67
68
69
70
71
72
73
74
75
76
77
78
79
80
81
82
83
84
85
86
87
88
89
90
91
92
93
94
95
96
97
98
99
100
101
102
103
104
105
106
107
108
109
110
111
112
113
114
115
116
117
118
119
120
121
122
123
124
125
126
127
128</div>
<div class="xl" style="line-height:7.28px;transform:translate(1039.06px,1205.9px) rotate(-90deg)">1
2
3
4
5
6
7
8
9
10
11
12
13
14
15
16
17
18
19
20
21
22
23
24
25
26
27
28
29
30
31
32
33
34
35
36
37
38
39
40
41
42
43
44
45
46
47
48
49
50
51
52
53
54
55
56
57
58
59
60
61
62
63
64
65
66
67
68
69
70
71
72
73
74
75
76
77
78
79
80
81
82
83
84
85
86
87
88
89
90
91
92
93
94
95
96
97
98
99
100
101
102
103
104
105
106
107
108
109
110
111
112
113
114
115
116
117
118
119
120
121
122
123
124
125
126
127
128</div>
</body></html>
